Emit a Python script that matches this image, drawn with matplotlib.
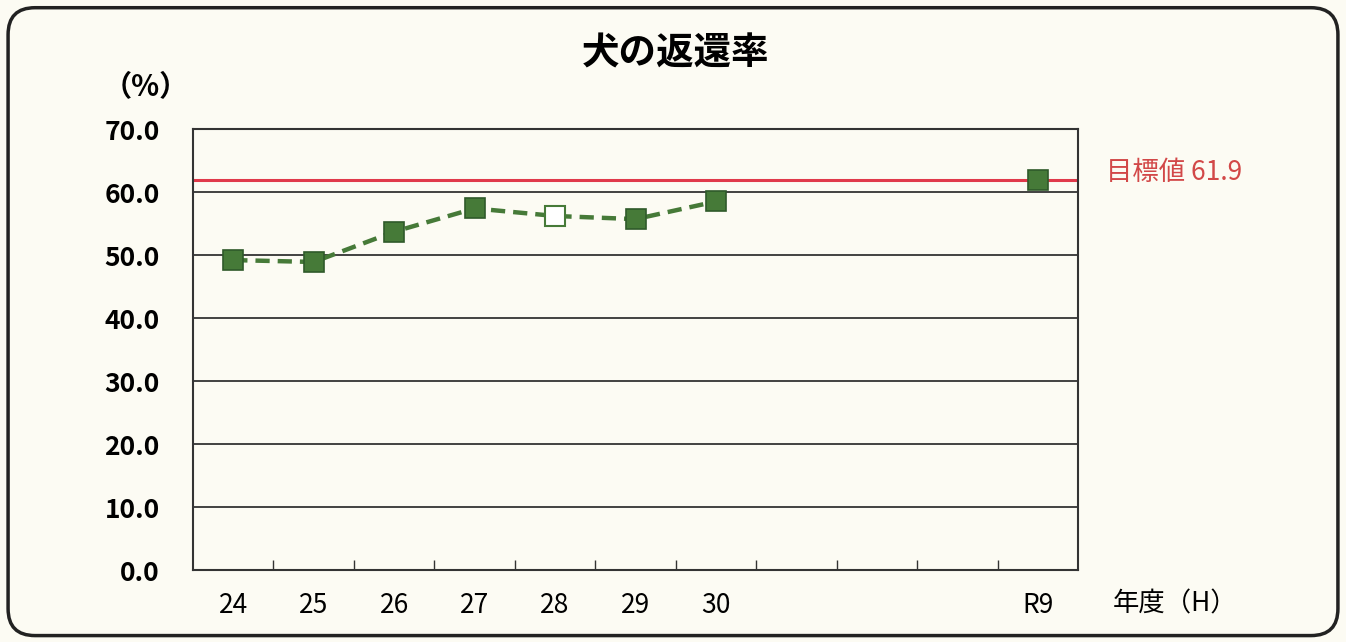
import numpy as np
import matplotlib.pyplot as plt
from matplotlib.patches import FancyBboxPatch

plt.rcParams['font.family'] = ['Noto Sans CJK JP', 'DejaVu Sans']

# --- data ---
categories = ['24', '25', '26', '27', '28', '29', '30', '', '', '', 'R9']
actual_years = ['24', '25', '26', '27', '28', '29', '30']
actual_rate = [49.2, 48.9, 53.7, 57.4, 56.2, 55.7, 58.5]
hollow_year = '28'          # drawn as an open square
target_year = 'R9'
target_rate = 61.9
yticks = [0, 10, 20, 30, 40, 50, 60, 70]

bg = '#fcfbf3'
green = '#467a38'
green_edge = '#2f5a2a'
red = '#e0394a'

fig = plt.figure(figsize=(13.46, 6.42), dpi=100, facecolor=bg)
ax = fig.add_axes([0.1434, 0.1121, 0.8009 - 0.1434, 0.799 - 0.1121])
ax.set_facecolor(bg)

# rounded outer frame
fig.patches.append(FancyBboxPatch((0.006, 0.01), 0.988, 0.978,
                                  boxstyle='round,pad=0,rounding_size=0.02',
                                  transform=fig.transFigure, fill=False,
                                  edgecolor='#222222', linewidth=2.5,
                                  mutation_aspect=1346 / 642))

x = np.arange(len(categories))
pos = {c: i for i, c in enumerate(categories) if c}

ax.set_xlim(-0.5, len(categories) - 0.5)
ax.set_ylim(0, 70)

# grid
for v in yticks[1:-1]:
    ax.axhline(v, color='#333333', linewidth=1.3, zorder=1)

# target line
ax.axhline(target_rate, color=red, linewidth=2.2, zorder=2)

# actual values
ms = 15
xs = [pos[c] for c in actual_years]
ax.plot(xs, actual_rate, color=green, linewidth=3.2, dashes=(3.2, 1.8), zorder=3)
for c, v in zip(actual_years, actual_rate):
    if c == hollow_year:
        ax.plot(pos[c], v, marker='s', markersize=ms, markerfacecolor='white',
                markeredgecolor=green, markeredgewidth=1.5, zorder=4)
    else:
        ax.plot(pos[c], v, marker='s', markersize=ms, markerfacecolor=green,
                markeredgecolor=green_edge, markeredgewidth=1.2, zorder=4)
ax.plot(pos[target_year], target_rate, marker='s', markersize=ms,
        markerfacecolor=green, markeredgecolor=green_edge, markeredgewidth=1.2, zorder=4)

# axes styling
for s in ax.spines.values():
    s.set_color('#333333')
    s.set_linewidth(1.5)

ax.set_yticks(yticks)
ax.set_yticklabels([f'{v:.1f}' for v in yticks], fontsize=19, fontweight='bold')
ax.tick_params(axis='y', length=0, pad=24)

ax.set_xticks(x)
ax.set_xticklabels(categories, fontsize=19)
ax.tick_params(axis='x', which='major', length=0, pad=16)
ax.set_xticks(x[:-1] + 0.5, minor=True)
ax.tick_params(axis='x', which='minor', direction='in', length=7, width=1, color='#333333')

# texts
fig.text(0.502, 0.918, '犬の返還率', ha='center', va='center', fontsize=27, fontweight='bold')
fig.text(0.108, 0.864, '（%）', ha='center', va='center', fontsize=21, fontweight='bold')
fig.text(0.8265, 0.06, '年度（H）', ha='left', va='center', fontsize=19)
ax.annotate(f'目標値 {target_rate}', xy=(1, target_rate), xycoords=('axes fraction', 'data'),
            xytext=(28, 8), textcoords='offset pixels', color='#d24848',
            fontsize=19, ha='left', va='center', annotation_clip=False)

fig.savefig('out.png', dpi=100, facecolor=bg)
